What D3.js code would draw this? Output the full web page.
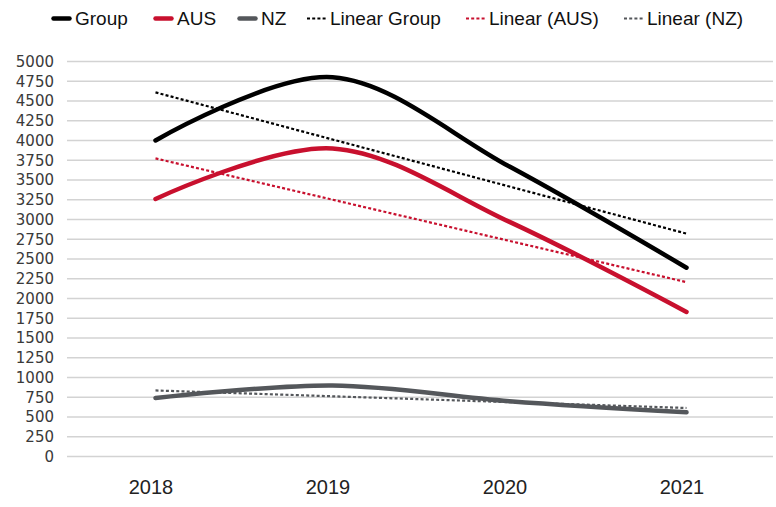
<!DOCTYPE html>
<html>
<head>
<meta charset="utf-8">
<script src="https://cdn.jsdelivr.net/npm/d3@7"></script>
<style>
  html, body { margin: 0; padding: 0; background: #ffffff; }
  svg { display: block; }
</style>
</head>
<body>
<svg id="chart" width="776" height="507"></svg>
<script>
// Yearly figures for the group and its two regions
const years = ["2018", "2019", "2020", "2021"];
const groupValues = [4000, 4800, 3670, 2390];
const ausValues = [3260, 3900, 2970, 1830];
const nzValues = [740, 900, 700, 560];
const yTicks = d3.range(0, 5001, 250);

const seriesList = [
  { name: "Group", values: groupValues, color: "#000000" },
  { name: "AUS", values: ausValues, color: "#c8102e" },
  { name: "NZ", values: nzValues, color: "#54575b" }
];
const trendNames = ["Linear Group", "Linear (AUS)", "Linear (NZ)"];

const svg = d3.select("#chart");

const x = d3.scalePoint().domain(years).range([67, 775]).padding(0.5);
const y = d3.scaleLinear().domain([0, 5000]).range([456.5, 61.5]);

// Horizontal gridlines with the y-axis labels
const yAxis = d3.axisLeft(y).tickValues(yTicks).tickSize(0).tickPadding(13)
  .tickFormat(d3.format("d"));
const gy = svg.append("g").attr("transform", "translate(67,0)").call(yAxis);
gy.select(".domain").remove();
gy.selectAll("text")
  .attr("font-family", "'DejaVu Sans', sans-serif")
  .attr("font-size", "15px")
  .attr("fill", "#3a3a3a");
svg.append("g").selectAll("line").data(yTicks).join("line")
  .attr("x1", 67).attr("x2", 773)
  .attr("y1", d => y(d)).attr("y2", d => y(d))
  .attr("stroke", "#d3d3d3").attr("stroke-width", 1.5);

// Category axis along the bottom
const xAxis = d3.axisBottom(x).tickSize(0).tickPadding(0);
const gx = svg.append("g").attr("transform", "translate(-5,480)").call(xAxis);
gx.select(".domain").remove();
gx.selectAll("text")
  .attr("dy", "0.71em")
  .attr("font-family", "'Liberation Sans', Arial, sans-serif")
  .attr("font-size", "20px")
  .attr("fill", "#222222");

// Least-squares trend for each series
function linearTrend(values) {
  const xs = values.map((_, i) => i + 1);
  const mx = d3.mean(xs), my = d3.mean(values);
  const sxy = d3.sum(xs, (v, i) => (v - mx) * (values[i] - my));
  const sxx = d3.sum(xs, v => (v - mx) * (v - mx));
  const slope = sxy / sxx, icpt = my - slope * mx;
  return xs.map(v => icpt + slope * v);
}

const smooth = d3.line()
  .x((d, i) => x(years[i]))
  .y(d => y(d))
  .curve(d3.curveCardinal.tension(0));
const straight = d3.line()
  .x((d, i) => x(years[i]))
  .y(d => y(d));

// Smoothed series lines
seriesList.forEach(s => {
  svg.append("path")
    .attr("d", smooth(s.values))
    .attr("fill", "none")
    .attr("stroke", s.color)
    .attr("stroke-width", 4.5)
    .attr("stroke-linecap", "round")
    .attr("stroke-linejoin", "round");
});

// Dotted trend lines
seriesList.forEach(s => {
  svg.append("path")
    .attr("d", straight(linearTrend(s.values)))
    .attr("fill", "none")
    .attr("stroke", s.color)
    .attr("stroke-width", 2.2)
    .attr("stroke-dasharray", "3,2.2");
});

// Legend across the top
const legendItems = seriesList.map(s => ({ label: s.name, color: s.color, dotted: false }))
  .concat(seriesList.map((s, i) => ({ label: trendNames[i], color: s.color, dotted: true })));
const legendX = [52, 154, 238, 307, 466, 624];
const ly = 18.5;
const legend = svg.append("g");
legendItems.forEach((item, i) => {
  const lx = legendX[i];
  const g = legend.append("g");
  g.append("line")
    .attr("x1", item.dotted ? lx : lx + 1.5).attr("x2", item.dotted ? lx + 19 : lx + 17.5)
    .attr("y1", ly).attr("y2", ly)
    .attr("stroke", item.color)
    .attr("stroke-width", item.dotted ? 2.2 : 4.5)
    .attr("stroke-linecap", item.dotted ? "butt" : "round")
    .attr("stroke-dasharray", item.dotted ? "3,2.2" : null);
  g.append("text")
    .attr("x", lx + 23).attr("y", ly)
    .attr("dy", "0.36em")
    .attr("font-family", "'Liberation Sans', Arial, sans-serif")
    .attr("font-size", "19px")
    .attr("fill", "#111111")
    .text(item.label);
});
</script>
</body>
</html>
